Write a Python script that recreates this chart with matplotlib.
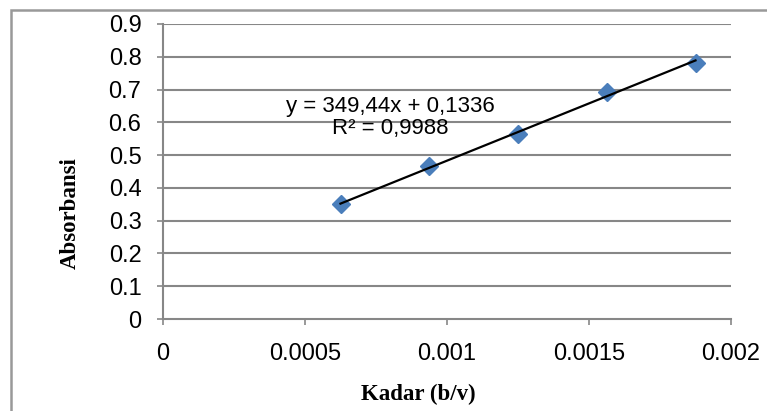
import numpy as np
import matplotlib.pyplot as plt
from matplotlib.patches import Rectangle

# data
kadar = [0.000625, 0.0009375, 0.00125, 0.0015625, 0.001875]
absorbansi = [0.350, 0.468, 0.565, 0.693, 0.782]
slope, intercept = 349.44, 0.1336

eq_text = 'y = 349,44x + 0,1336'
r2_text = 'R² = 0,9988'

x_ticks = [0, 0.0005, 0.001, 0.0015, 0.002]
x_tick_labels = ['0', '0.0005', '0.001', '0.0015', '0.002']
y_ticks = [0, 0.1, 0.2, 0.3, 0.4, 0.5, 0.6, 0.7, 0.8, 0.9]
y_tick_labels = ['0', '0.1', '0.2', '0.3', '0.4', '0.5', '0.6', '0.7', '0.8', '0.9']

grid_col = '#878787'
sans = 'Liberation Sans'
serif = 'Liberation Serif'

fig = plt.figure(figsize=(7.67, 4.11), dpi=100)
# outer chart frame (cut off on the right and bottom in the reference)
fig.patches.append(Rectangle((11 / 767, -0.05), 1.2, 1 - 10 / 411 + 0.05,
                             transform=fig.transFigure, fill=False,
                             edgecolor='#999999', linewidth=1.8))
ax = fig.add_axes([163 / 767, 1 - 319 / 411, (731 - 163) / 767, (319 - 24) / 411])

ax.set_xlim(0, 0.002)
ax.set_ylim(0, 0.9)

for yv in y_ticks[1:]:
    ax.axhline(yv, color=grid_col, linewidth=1.5, zorder=1)

xs = np.array([kadar[0], kadar[-1]])
ax.plot(xs, slope * xs + intercept, color='black', linewidth=1.6, zorder=3)
ax.plot(kadar, absorbansi, linestyle='none', marker='D', markersize=9.2,
        color='#4a7ebb', zorder=2)

# trendline label, two lines centred on the same x
ax.text(0.000799, 0.631, eq_text, ha='center', va='baseline',
        fontsize=16, family=sans)
ax.text(0.000799, 0.564, r2_text, ha='center', va='baseline',
        fontsize=16, family=sans)

for s in ['top', 'right']:
    ax.spines[s].set_visible(False)
for s in ['left', 'bottom']:
    ax.spines[s].set_color(grid_col)
    ax.spines[s].set_linewidth(1.5)

ax.set_xticks(x_ticks)
ax.set_xticklabels(x_tick_labels, fontsize=17, family=sans)
ax.set_yticks(y_ticks)
ax.set_yticklabels(y_tick_labels, fontsize=17, family=sans)
ax.tick_params(axis='x', direction='out', length=4.5, width=1.2, color=grid_col, pad=13)
ax.tick_params(axis='y', direction='out', length=4.5, width=1.2, color=grid_col, pad=11)

fig.text(418 / 767, 1 - 400 / 411, 'Kadar (b/v)', ha='center', va='baseline',
         fontsize=16.5, fontweight='bold', family=serif)
fig.text(70 / 767, 1 - 213 / 411, 'Absorbansi', ha='center', va='center',
         rotation=90, fontsize=16.5, fontweight='bold', family=serif)

fig.savefig('out.png', dpi=100)
